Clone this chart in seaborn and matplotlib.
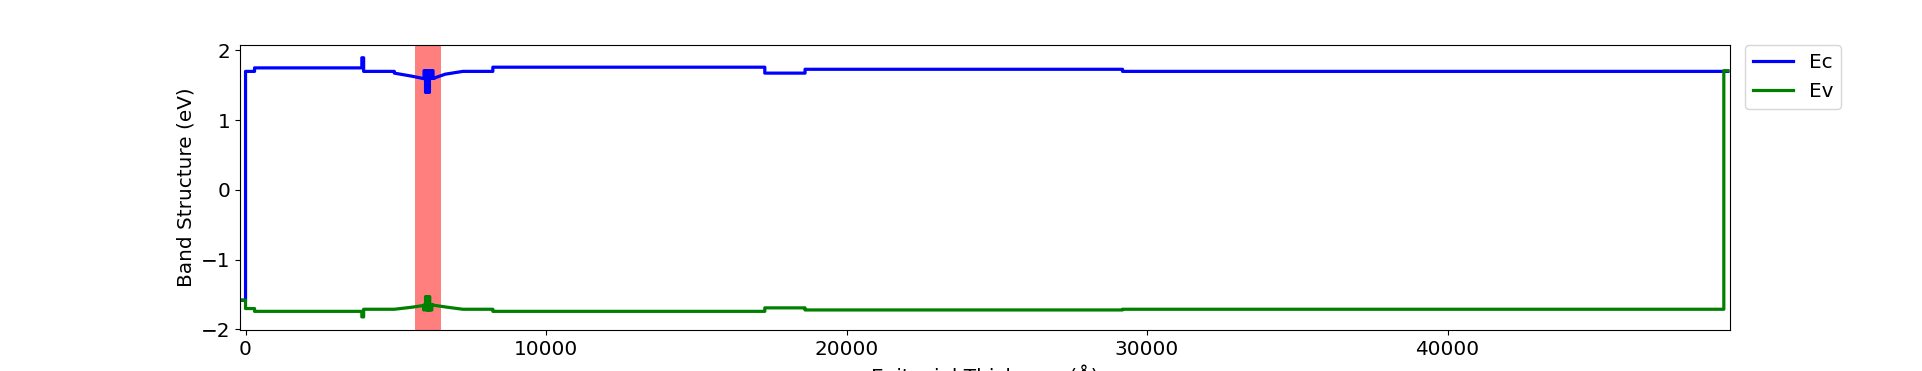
import matplotlib
matplotlib.use("Agg")
import matplotlib.pyplot as plt
import seaborn as sns
import pandas as pd

# Epitaxial thickness positions (Angstrom) and band edges (eV)
ec_x = [-150, 0, 0, 300, 300, 3870, 3870, 3930, 3930, 4950, 4950, 5550,
        5940, 5940, 5965, 5965, 5990, 5990, 6005, 6005, 6020, 6020, 6040,
        6040, 6060, 6060, 6080, 6080, 6100, 6100, 6120, 6120, 6140, 6140,
        6165, 6165, 6190, 6190, 6215, 6215, 6240, 6240, 6280, 6280,
        6650, 7230, 8230, 8230, 17280, 17280, 18620, 18620, 29185, 29185, 49330]
ec_y = [-1.58, -1.58, 1.70, 1.70, 1.75, 1.75, 1.895, 1.895, 1.70, 1.70, 1.675, 1.63,
        1.595, 1.71, 1.71, 1.60, 1.60, 1.40, 1.40, 1.71, 1.71, 1.40, 1.40,
        1.71, 1.71, 1.40, 1.40, 1.71, 1.71, 1.40, 1.40, 1.71, 1.71, 1.60,
        1.60, 1.71, 1.71, 1.60, 1.60, 1.71, 1.71, 1.60, 1.60, 1.605,
        1.66, 1.70, 1.70, 1.76, 1.76, 1.675, 1.675, 1.73, 1.73, 1.70, 1.70]

ev_x = [-150, 0, 0, 300, 300, 3870, 3870, 3930, 3930, 4950, 5550,
        5930, 5930, 5955, 5955, 5990, 5990, 6010, 6010, 6030, 6030, 6050,
        6050, 6070, 6070, 6090, 6090, 6110, 6110, 6130, 6130, 6150, 6150,
        6175, 6175, 6200, 6200, 6230, 6230,
        6700, 7230, 8230, 8230, 17280, 17280, 18620, 18620, 29185, 29185,
        49195, 49195, 49330]
ev_y = [-1.58, -1.58, -1.70, -1.70, -1.74, -1.74, -1.82, -1.82, -1.71, -1.71, -1.68,
        -1.655, -1.72, -1.72, -1.645, -1.645, -1.53, -1.53, -1.72, -1.72, -1.53, -1.53,
        -1.72, -1.72, -1.53, -1.53, -1.72, -1.72, -1.53, -1.53, -1.72, -1.72, -1.645,
        -1.645, -1.72, -1.72, -1.645, -1.645, -1.65,
        -1.68, -1.71, -1.71, -1.74, -1.74, -1.69, -1.69, -1.72, -1.72, -1.71,
        -1.71, 1.71, 1.71]

span_start, span_end = 5650, 6510
x_limits = (-176, 49394)
y_limits = (-2.01, 2.085)

plt.rcParams["font.size"] = 14.4
plt.rcParams["font.family"] = ["DejaVu Sans"]

fig, ax = plt.subplots(figsize=(19.22, 3.71), dpi=100)

df_ec = pd.DataFrame({"x": ec_x, "y": ec_y})
df_ev = pd.DataFrame({"x": ev_x, "y": ev_y})

ax.axvspan(span_start, span_end, color="red", alpha=0.5, lw=0)
sns.lineplot(data=df_ec, x="x", y="y", sort=False, estimator=None,
             color="blue", lw=2.3, label="Ec", ax=ax)
sns.lineplot(data=df_ev, x="x", y="y", sort=False, estimator=None,
             color="green", lw=2.3, label="Ev", ax=ax)

ax.set_xlim(*x_limits)
ax.set_ylim(*y_limits)
ax.set_xlabel("Epitaxial Thickness (Å)")
ax.set_ylabel("Band Structure (eV)")
ax.legend(bbox_to_anchor=(1.01, 1), loc="upper left", borderaxespad=0.)

fig.savefig("out.png", dpi=100)
